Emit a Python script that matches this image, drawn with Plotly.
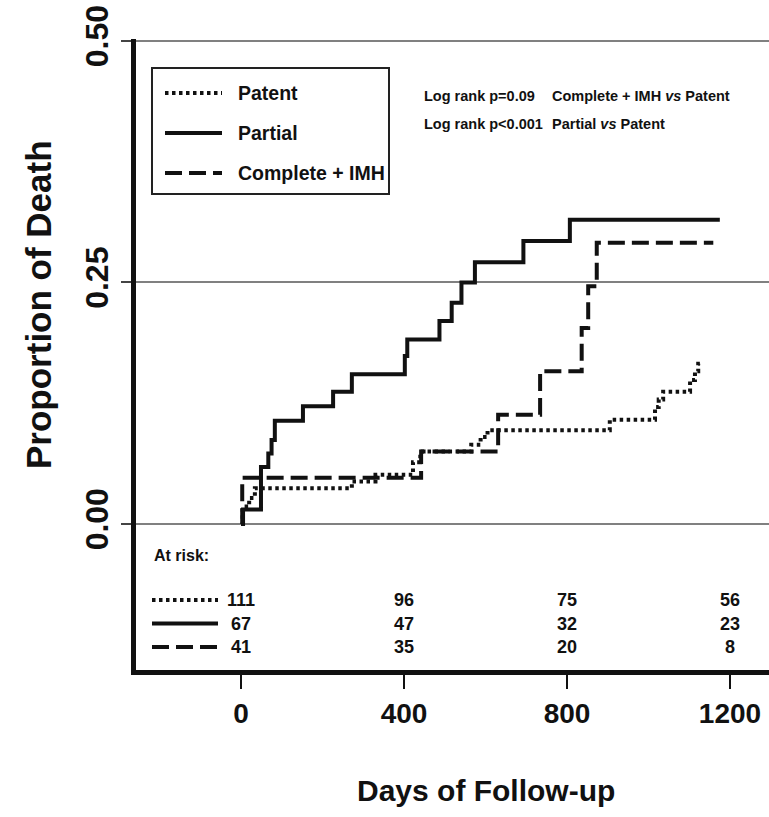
import plotly.graph_objects as go

# Kaplan-Meier cumulative mortality, by false-lumen status
patent_days = [0, 4, 20, 34, 272, 330, 422, 440, 565, 588, 605, 905, 1016, 1025, 1036, 1102, 1114, 1122, 1126]
patent_prop = [0, 0.018, 0.027, 0.037, 0.044, 0.051, 0.064, 0.075, 0.082, 0.090, 0.097, 0.108, 0.121, 0.129, 0.137, 0.149, 0.158, 0.166, 0.166]

partial_days = [0, 5, 49, 67, 75, 83, 152, 226, 272, 402, 408, 487, 517, 541, 574, 693, 807, 1175]
partial_prop = [0, 0.015, 0.059, 0.073, 0.087, 0.107, 0.122, 0.137, 0.155, 0.174, 0.191, 0.210, 0.229, 0.250, 0.271, 0.293, 0.315, 0.315]

complete_days = [0, 3, 442, 631, 734, 836, 852, 873, 1159]
complete_prop = [0, 0.048, 0.075, 0.113, 0.158, 0.203, 0.246, 0.291, 0.291]

group_names = ["Patent", "Partial", "Complete + IMH"]

# numbers at risk
risk_times = [0, 400, 800, 1200]
risk_patent = [111, 96, 75, 56]
risk_partial = [67, 47, 32, 23]
risk_complete = [41, 35, 20, 8]

x_ticks = [0, 400, 800, 1200]
y_ticks = [0, 0.25, 0.5]
y_tick_text = ["0.00", "0.25", "0.50"]

# page geometry (pixels)
W, H = 769, 817
ML, MR, MT, MB = 136, 0, 39, 147
X_RANGE = [-257.7, 1295.7]
Y_RANGE = [-0.1511, 0.502]

FONT = "Liberation Sans, Arial, sans-serif"
INK = "#111111"


def fx(p):
    """page x pixel -> paper fraction"""
    return (p - ML) / (W - ML - MR)


def fy(p):
    """page y pixel -> paper fraction"""
    return (H - MB - p) / (H - MT - MB)


def bold(size):
    return dict(family=FONT, size=size, color=INK, weight="bold")


styles = {
    "Patent": dict(color=INK, width=4, dash="3.5px,3.5px"),
    "Partial": dict(color=INK, width=4, dash="solid"),
    "Complete + IMH": dict(color=INK, width=4, dash="17px,7px"),
}

series = [
    ("Patent", patent_days, patent_prop, risk_patent),
    ("Partial", partial_days, partial_prop, risk_partial),
    ("Complete + IMH", complete_days, complete_prop, risk_complete),
]

fig = go.Figure()
for name, d, p, _ in series:
    fig.add_trace(go.Scatter(
        x=d, y=p, mode="lines", name=name, line_shape="hv",
        line=styles[name], showlegend=False, hoverinfo="x+y+name",
    ))

shapes = []
annotations = []

# legend box
shapes.append(dict(type="rect", xref="paper", yref="paper",
                   x0=fx(152), x1=fx(389), y0=fy(194), y1=fy(68),
                   line=dict(color="#222222", width=2), fillcolor="rgba(0,0,0,0)"))
for i, name in enumerate(group_names):
    row = 93 + 40 * i
    shapes.append(dict(type="line", xref="paper", yref="paper",
                       x0=fx(165), x1=fx(222), y0=fy(row), y1=fy(row),
                       line=styles[name]))
    annotations.append(dict(xref="paper", yref="paper", x=fx(236), y=fy(row),
                            text=name, showarrow=False, xanchor="left", yanchor="middle",
                            font=bold(19.5)))

# log-rank notes
notes = [("Log rank p=0.09", "Complete + IMH <i>vs</i> Patent"),
         ("Log rank p<0.001", "Partial <i>vs</i> Patent")]
for i, (left, right) in enumerate(notes):
    row = 96 + 28 * i
    for xp, txt in ((422, left), (550, right)):
        annotations.append(dict(xref="paper", yref="paper", x=fx(xp), y=fy(row),
                                text=txt, showarrow=False, xanchor="left", yanchor="middle",
                                font=bold(14.5)))

# at-risk table
annotations.append(dict(xref="paper", yref="paper", x=fx(152), y=fy(555),
                        text="At risk:", showarrow=False, xanchor="left", yanchor="middle",
                        font=bold(16)))
for i, (name, _, _, counts) in enumerate(series):
    row = 600 + 23.5 * i
    shapes.append(dict(type="line", xref="paper", yref="paper",
                       x0=fx(152), x1=fx(218), y0=fy(row), y1=fy(row),
                       line=styles[name]))
    for t, n in zip(risk_times, counts):
        annotations.append(dict(xref="x", yref="paper", x=t, y=fy(row),
                                text=str(n), showarrow=False, xanchor="center", yanchor="middle",
                                font=bold(18)))

# axis titles
annotations.append(dict(xref="paper", yref="paper", x=fx(486), y=fy(791),
                        text="Days of Follow-up", showarrow=False, xanchor="center", yanchor="middle",
                        font=bold(30)))
annotations.append(dict(xref="paper", yref="paper", x=fx(38), y=fy(305),
                        text="Proportion of Death", showarrow=False, textangle=-90,
                        xanchor="center", yanchor="middle",
                        font=bold(35)))

fig.update_layout(
    width=W, height=H,
    margin=dict(l=ML, r=MR, t=MT, b=MB, pad=0),
    paper_bgcolor="white", plot_bgcolor="white",
    shapes=shapes, annotations=annotations,
    showlegend=False,
)
fig.update_xaxes(
    range=X_RANGE, tickvals=x_ticks, ticks="outside", ticklen=14, tickwidth=2,
    tickcolor=INK, showline=True, linewidth=5, linecolor=INK,
    showgrid=False, zeroline=False,
    tickfont=bold(28),
)
fig.update_yaxes(
    range=Y_RANGE, tickvals=y_ticks, ticktext=y_tick_text, tickangle=-90,
    ticks="outside", ticklen=10, tickwidth=2, tickcolor="#444444",
    showline=True, linewidth=5, linecolor=INK,
    showgrid=True, gridcolor="#808080", gridwidth=2, zeroline=False,
    tickfont=bold(32),
)

fig.write_html("out.html")
